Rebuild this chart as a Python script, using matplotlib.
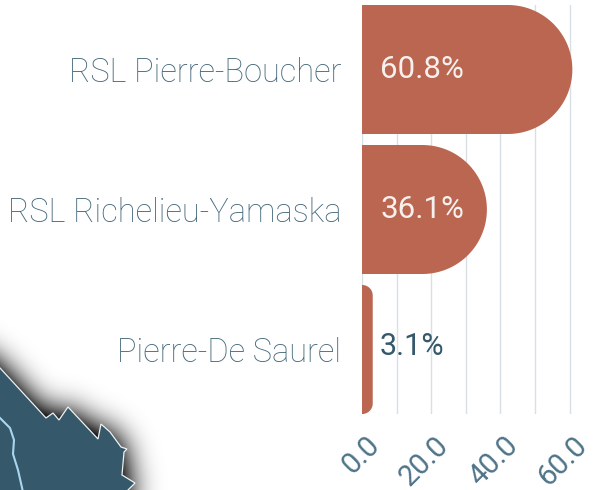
import numpy as np
import matplotlib
matplotlib.use('Agg')
import matplotlib.pyplot as plt
from matplotlib.path import Path
from matplotlib.patches import PathPatch, Polygon
from matplotlib.transforms import ScaledTranslation

categories = ['RSL Pierre-Boucher', 'RSL Richelieu-Yamaska', 'Pierre-De Saurel']
values = [60.8, 36.1, 3.1]
value_labels = ['60.8%', '36.1%', '3.1%']
major_ticks = [0, 20, 40, 60]
minor_ticks = [10, 30, 50]

# corner of the map, in picture pixels
map_x = [-5, 0, 46, 53, 59, 68, 98, 101, 110, 121, 127, 124, 122, 135, 128, 125, -5]
map_y = [362, 368, 418, 413, 420, 407, 439, 424, 432, 447, 449, 452, 475, 483, 490, 495, 495]
river_x = [0, 10, 14, 13, 18, 23]
river_y = [418, 428, 440, 454, 470, 492]

BAR = '#ba6650'
DARK = '#35586b'
LABEL = '#426779'
TICK = '#4f7388'
GRID = '#d9e0e5'
FONT = 'Roboto'

W, H = 602, 490
fig = plt.figure(figsize=(W / 100, H / 100), dpi=100, facecolor='white')


def shadow_layer(ax):
    # soft shadow behind the map: blurred polygon mask
    yy, xx = np.mgrid[-60:H + 60, -60:W + 60]
    pts = np.column_stack([xx.ravel() + 0.5, yy.ravel() + 0.5])
    # extend the map shape off the picture so the blur does not fade at the edges
    ex = map_x[:-1] + [125, 125, -200, -200]
    ey = map_y[:-1] + [600, 600, 600, 260]
    mask = Path(np.column_stack([ex, ey])).contains_points(pts).reshape(H + 120, W + 120).astype(float)
    sigma = 15
    k = np.exp(-np.arange(-45, 46) ** 2 / (2 * sigma ** 2))
    k /= k.sum()
    blur = np.apply_along_axis(lambda r: np.convolve(r, k, mode='same'), 0, mask)
    blur = np.apply_along_axis(lambda r: np.convolve(r, k, mode='same'), 1, blur)
    blur = blur[60:-60, 60:-60]
    rgba = np.zeros((H, W, 4))
    rgba[..., 3] = np.clip(blur * 1.6, 0, 1) * 0.9
    ax.imshow(rgba, extent=(0, W, H, 0), interpolation='bilinear', zorder=1)


bg = fig.add_axes([0, 0, 1, 1])
shadow_layer(bg)
bg.set_xlim(0, W)
bg.set_ylim(H, 0)
bg.axis('off')
bg.add_patch(Polygon(np.column_stack([map_x, map_y]), closed=True, facecolor=DARK,
                     edgecolor='#eef2f3', linewidth=0.9, zorder=2))
bg.plot(river_x, river_y, color='#a9d6ee', linewidth=1.5, zorder=3)

# axes: x=0 at px 362, x=60 at px 569.6, rows 5..414 px
px_per_unit = (569.6 - 362) / 60
top, bottom = 5, 414
right_px = 598
ax = fig.add_axes([362 / W, 1 - bottom / H, (right_px - 362) / W, (bottom - top) / H])
ax.patch.set_alpha(0)
ax.set_xlim(0, (right_px - 362) / px_per_unit)
half = 64.5 / 140
ax.set_ylim(len(values) - 1 + half, -half)
px_per_row = 140


def rounded_bar(ax, i, value, radius_px):
    # right end rounded; radii converted from pixels so corners stay circular
    r = min(radius_px, value * px_per_unit)
    rx = r / px_per_unit
    ry = r / px_per_row
    y0, y1 = i - half, i + half
    t = np.linspace(-np.pi / 2, 0, 30)
    low = np.column_stack([value - rx + rx * np.cos(t), y1 - ry - ry * np.sin(t)])
    t2 = np.linspace(0, np.pi / 2, 30)
    upp = np.column_stack([value - rx + rx * np.cos(t2), y0 + ry - ry * np.sin(t2)])
    verts = np.vstack([[0, y1], low, upp, [0, y0], [0, y1]])
    ax.add_patch(PathPatch(Path(verts, closed=True), facecolor=BAR, edgecolor='none', zorder=3))


for i, v in enumerate(values):
    rounded_bar(ax, i, v, 64.5 if v > 10 else 10.5)
    inside = v > 10
    ax.annotate(value_labels[i], (0 if inside else v, i), xytext=(18 if inside else 7, 0 if inside else 3),
                textcoords='offset pixels', va='center', ha='left', family=FONT,
                fontsize=22.5 if inside else 22, color='#f6f1ee' if inside else DARK,
                fontweight='normal', zorder=4)

ax.set_yticks(range(len(categories)))
ax.set_yticklabels(categories, family=FONT, fontsize=23.5, color=LABEL, fontweight='light')
ax.tick_params(axis='y', length=0, pad=15)
ax.set_xticks(major_ticks)
ax.set_xticks(minor_ticks, minor=True)
ax.set_xticklabels([f'{t:.1f}' for t in major_ticks], family=FONT, fontsize=21, color=TICK,
                   fontweight='normal', rotation=45, ha='right', rotation_mode='anchor')
ax.tick_params(axis='x', which='both', length=0, pad=0)
ax.grid(True, axis='x', which='both', color=GRID, linewidth=1.0)
ax.set_axisbelow(True)
for s in ax.spines.values():
    s.set_visible(False)

# tick_params resets label transforms, so the shift goes last
shift = ScaledTranslation(3 / 100, -17 / 100, fig.dpi_scale_trans)
for lab in ax.get_xticklabels():
    lab.set_transform(lab.get_transform() + shift)

fig.savefig('out.png', dpi=100)
